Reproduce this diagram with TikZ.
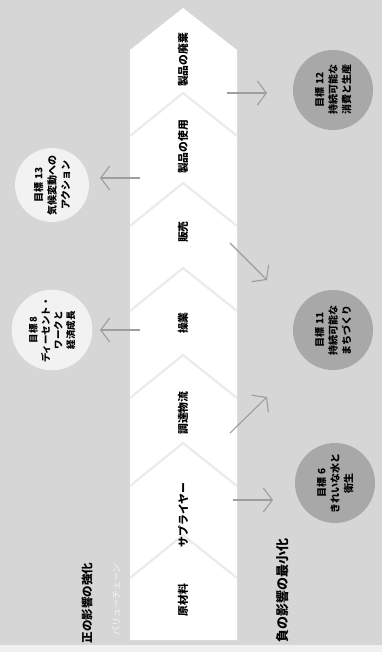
\documentclass[tikz,border=0pt]{standalone}
\usepackage{fontspec}
\newfontfamily\jp{Noto Sans CJK JP}
\usetikzlibrary{arrows.meta}
\definecolor{pagegray}{gray}{0.84}
\definecolor{goodfill}{gray}{0.95}
\definecolor{badfill}{gray}{0.66}
\definecolor{arrowgray}{gray}{0.62}
\definecolor{chevgray}{gray}{0.92}

\begin{document}
\begin{tikzpicture}[x=1pt,y=-1pt,
	stage/.style={rotate=90,font=\jp\bfseries\fontsize{10.8}{13}\selectfont},
	heading/.style={rotate=90,font=\jp\bfseries\fontsize{11.5}{14}\selectfont},
	goal/.style={circle,minimum size=78pt,inner sep=0pt,align=center,rotate=90,
		font=\jp\bfseries\fontsize{10}{13.5}\selectfont},
	goodgoal/.style={goal,fill=goodfill},
	badgoal/.style={goal,fill=badfill},
	arr/.style={draw=arrowgray,line width=1.1pt,-{Straight Barb[length=9pt,width=24pt]}},
	chev/.style={draw=chevgray,line width=2.2pt}]
	\useasboundingbox (0,0) rectangle (382,652);
	\fill[pagegray] (0,0) rectangle (382,645);
	\fill[gray!12] (0,645) rectangle (382,652);
	% value chain band
	\fill[white] (130,640) -- (130,50) -- (183,8) -- (237,50) -- (237,640) -- cycle;
	\draw[chev] (130,136) -- (183,93) -- (237,136);
	\draw[chev] (130,226) -- (183,183) -- (237,226);
	\draw[chev] (130,311) -- (183,268) -- (237,311);
	\draw[chev] (130,398) -- (183,355) -- (237,398);
	\draw[chev] (130,486) -- (183,443) -- (237,486);
	\draw[chev] (130,578) -- (183,535) -- (237,578);
	\node[stage] (s7) at (183,60) {製品の廃棄};
	\node[stage] (s6) at (183,147) {製品の使用};
	\node[stage] (s5) at (183,232) {販売};
	\node[stage] (s4) at (183,323) {操業};
	\node[stage] (s3) at (183,413) {調達物流};
	\node[stage] (s2) at (183,515) {サプライヤー};
	\node[stage] (s1) at (183,600) {原材料};
	\node[rotate=90,text=gray!6,font=\jp\fontsize{9}{11}\selectfont] (vc) at (116,600) {バリューチェーン};
	% headings
	\node[heading] (pos) at (87,603) {正の影響の強化};
	\node[heading,font=\jp\bfseries\fontsize{13}{15}\selectfont] (neg) at (283,590) {負の影響の最小化};
	% goals
	\node[goodgoal,minimum size=74pt] (g13) at (52,185) {目標 13\\気候変動への\\アクション};
	\node[goodgoal,minimum size=76pt,font=\jp\bfseries\fontsize{9.5}{12.5}\selectfont] (g8) at (52,330) {目標 8\\ディーセント・\\ワークと\\経済成長};
	\node[badgoal,minimum size=80pt] (g12) at (333,90) {目標 12\\持続可能な\\消費と生産};
	\node[badgoal,minimum size=80pt] (g11) at (333,330) {目標 11\\持続可能な\\まちづくり};
	\node[badgoal,minimum size=80pt] (g6) at (335,483) {目標 6\\きれいな水と\\衛生};
	% arrows
	\coordinate (a12s) at (227,93);  \coordinate (a12e) at (267,93);
	\coordinate (a13s) at (140,178); \coordinate (a13e) at (100,178);
	\coordinate (a8s) at (140,330);  \coordinate (a8e) at (100,330);
	\coordinate (a5s) at (230,243);  \coordinate (a5e) at (267,280);
	\coordinate (a3s) at (230,433);  \coordinate (a3e) at (267,397);
	\coordinate (a2s) at (233,500);  \coordinate (a2e) at (273,500);
	\draw[arr] (a12s) -- (a12e);
	\draw[arr] (a13s) -- (a13e);
	\draw[arr] (a8s) -- (a8e);
	\draw[arr] (a5s) -- (a5e);
	\draw[arr] (a3s) -- (a3e);
	\draw[arr] (a2s) -- (a2e);
\end{tikzpicture}
\end{document}
